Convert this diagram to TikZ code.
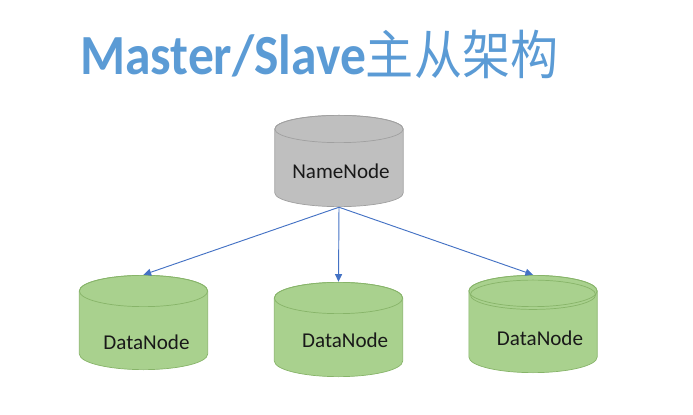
\documentclass[tikz,border=0pt]{standalone}
\usepackage{fontspec}
\setmainfont{Carlito}
\newfontfamily\cjk{Noto Sans CJK SC}
\usetikzlibrary{arrows.meta}
\definecolor{titleblue}{RGB}{91, 155, 213}
\definecolor{arrowcol} {RGB}{68, 114, 196}
\definecolor{namefill} {RGB}{191, 191, 191}
\definecolor{nameedge} {RGB}{160, 160, 160}
\definecolor{datafill} {RGB}{169, 209, 142}
\definecolor{dataedge} {RGB}{135, 180, 105}

\begin{document}
\begin{tikzpicture}[x=0.03cm, y=0.03cm,
  link/.style={-{Triangle[length=6.5pt,width=6pt]}, arrowcol, line width=0.8pt},
  % 圆柱：填充色, 边框色, 椭圆半高
  db/.style n args={3}{rectangle, inner sep=0pt, minimum width=3.87cm,
    path picture={
      \draw[#2, fill=#1, line width=0.6pt]
        ([xshift=0.3pt, yshift=-#3]path picture bounding box.north west)
        -- ([xshift=0.3pt, yshift=#3]path picture bounding box.south west)
        arc[start angle=180, end angle=360, x radius=1.925cm, y radius=#3-0.3pt]
        -- ([xshift=-0.3pt, yshift=-#3]path picture bounding box.north east)
        arc[start angle=0, end angle=180, x radius=1.925cm, y radius=#3-0.3pt]
        -- cycle;
      \draw[#2, line width=0.6pt]
        ([yshift=-#3]path picture bounding box.north)
        ellipse [x radius=1.925cm, y radius=#3-0.3pt];
    }},
  namedb/.style={db={namefill}{nameedge}{0.42cm}},
  datadb/.style={db={datafill}{dataedge}{0.48cm}},
  every label/.style={font=\fontsize{18}{20}\selectfont, text=black!90},
]
\useasboundingbox (0,0) rectangle (693,414);

% ── 标题 ───────────────────────────────────────────────
\node[anchor=base west, inner sep=0pt, text=titleblue] (title) at (80,339)
  {\scalebox{1}[1.1]{\fontsize{44}{50}\selectfont\bfseries Master/Slave\cjk\mdseries\fontsize{41}{50}\selectfont 主从架构}};

% ── NameNode ──────────────────────────────────────────
\node[namedb, minimum height=2.76cm,
  label={[xshift=0.06cm, yshift=-0.32cm]center:NameNode}] (nn) at (339,253) {};

% ── DataNodes ─────────────────────────────────────────
\node[datadb, minimum height=2.85cm,
  label={[xshift=0.09cm, yshift=-0.58cm]center:DataNode}] (dn1) at (143.5,91.5) {};
\node[datadb, minimum height=2.85cm,
  label={[xshift=0.2cm, yshift=-0.32cm]center:DataNode}] (dn2) at (338.5,84.5) {};
\node[datadb, minimum height=2.94cm,
  label={[xshift=0.21cm, yshift=-0.44cm]center:DataNode}] (dn3) at (533,90) {};
% 右侧顶部的双线
\draw[dataedge, line width=0.6pt] ([yshift=-0.6cm]dn3.north) ellipse [x radius=1.88cm, y radius=0.44cm];

% ── 连线 ───────────────────────────────────────────────
\draw[link] (nn.south) -- (dn1.north);
\draw[link] (nn.south) -- (dn2.north);
\draw[link] (nn.south) -- (dn3.north);

\end{tikzpicture}
\end{document}
